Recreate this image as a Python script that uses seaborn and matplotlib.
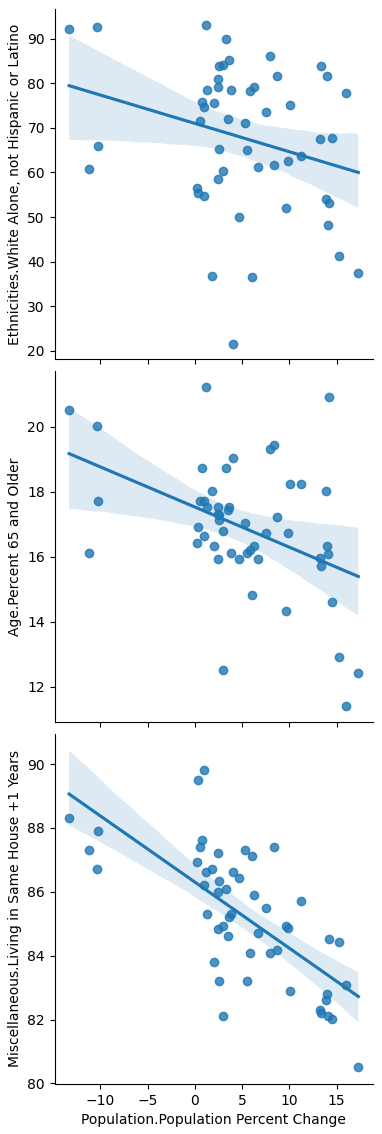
import matplotlib
matplotlib.use("Agg")
import matplotlib.pyplot as plt
import pandas as pd
import seaborn as sns

# values (one entry per state)
pop_change = [
    -13.3, -11.2, -10.3, -10.2, 0.2, 0.35, 0.56, 0.78, 0.95, 0.99,
    1.16, 1.3, 1.8, 2.0, 2.4, 2.5, 2.5, 2.6, 2.6, 2.96,
    3.0, 3.3, 3.5, 3.6, 3.8, 4.0, 4.66, 5.3, 5.5, 5.8,
    6.0, 6.3, 6.7, 7.5, 7.9, 8.4, 8.7, 9.6, 9.9, 10.05,
    11.25, 13.2, 13.3, 13.9, 14.0, 14.1, 14.2, 14.5, 15.3, 16.0,
    17.3,
]
white_alone = [
    92.2, 60.8, 92.7, 66.0, 56.6, 55.4, 71.6, 75.9, 74.7, 54.8,
    93.1, 78.6, 36.8, 75.6, 81.0, 79.2, 58.5, 83.9, 65.3, 60.3,
    84.1, 89.9, 72.0, 85.3, 78.6, 21.6, 50.1, 71.1, 65.0, 78.3,
    36.5, 79.2, 61.3, 73.6, 86.2, 61.7, 81.6, 52.0, 62.6, 75.1,
    63.7, 67.6, 83.9, 54.1, 81.6, 48.3, 53.2, 67.8, 41.2, 77.9,
    37.5,
]
age_65 = [
    20.51, 16.11, 20.02, 17.71, 16.43, 16.91, 17.71, 18.73, 17.71, 16.64,
    21.22, 17.53, 18.02, 16.33, 17.53, 15.93, 17.33, 17.30, 17.12, 12.51,
    16.81, 18.73, 17.43, 17.53, 16.11, 19.04, 15.93, 17.04, 16.11, 16.20,
    14.82, 16.33, 15.93, 16.73, 19.31, 19.44, 17.22, 14.33, 16.73, 18.24,
    18.24, 15.95, 15.71, 18.02, 16.33, 16.10, 20.91, 14.60, 12.91, 11.41,
    12.41,
]
same_house = [
    88.32, 87.30, 86.70, 87.90, 86.93, 89.51, 87.40, 87.62, 89.80, 86.21,
    86.61, 85.31, 86.70, 83.81, 86.00, 87.21, 84.84, 86.33, 83.21, 82.10,
    84.92, 86.10, 84.62, 85.21, 85.32, 86.61, 86.42, 87.30, 83.21, 84.10,
    87.12, 85.91, 84.71, 85.49, 84.10, 87.40, 84.19, 84.92, 84.86, 82.89,
    85.72, 82.31, 82.21, 82.60, 82.81, 82.10, 84.51, 82.01, 84.42, 83.09,
    80.50,
]

x_col = "Population.Population Percent Change"
y_cols = [
    "Ethnicities.White Alone, not Hispanic or Latino",
    "Age.Percent 65 and Older",
    "Miscellaneous.Living in Same House +1 Years",
]

df = pd.DataFrame({
    x_col: pop_change,
    y_cols[0]: white_alone,
    y_cols[1]: age_65,
    y_cols[2]: same_house,
})

g = sns.pairplot(df, x_vars=[x_col], y_vars=y_cols, kind="reg",
                 height=3.78, aspect=3.82 / 3.78, plot_kws={"seed": 0})

# bottom panel in the reference reaches down to the 80 tick
ax_b = g.axes[2, 0]
ax_b.set_ylim(79.98, 90.95)

fig = g.figure
fig.set_size_inches(3.82, 11.34)
fig.subplots_adjust(left=0.143, right=0.976, top=0.992, bottom=0.044, hspace=0.034)
fig.savefig("out.png", dpi=100)
plt.close(fig)
